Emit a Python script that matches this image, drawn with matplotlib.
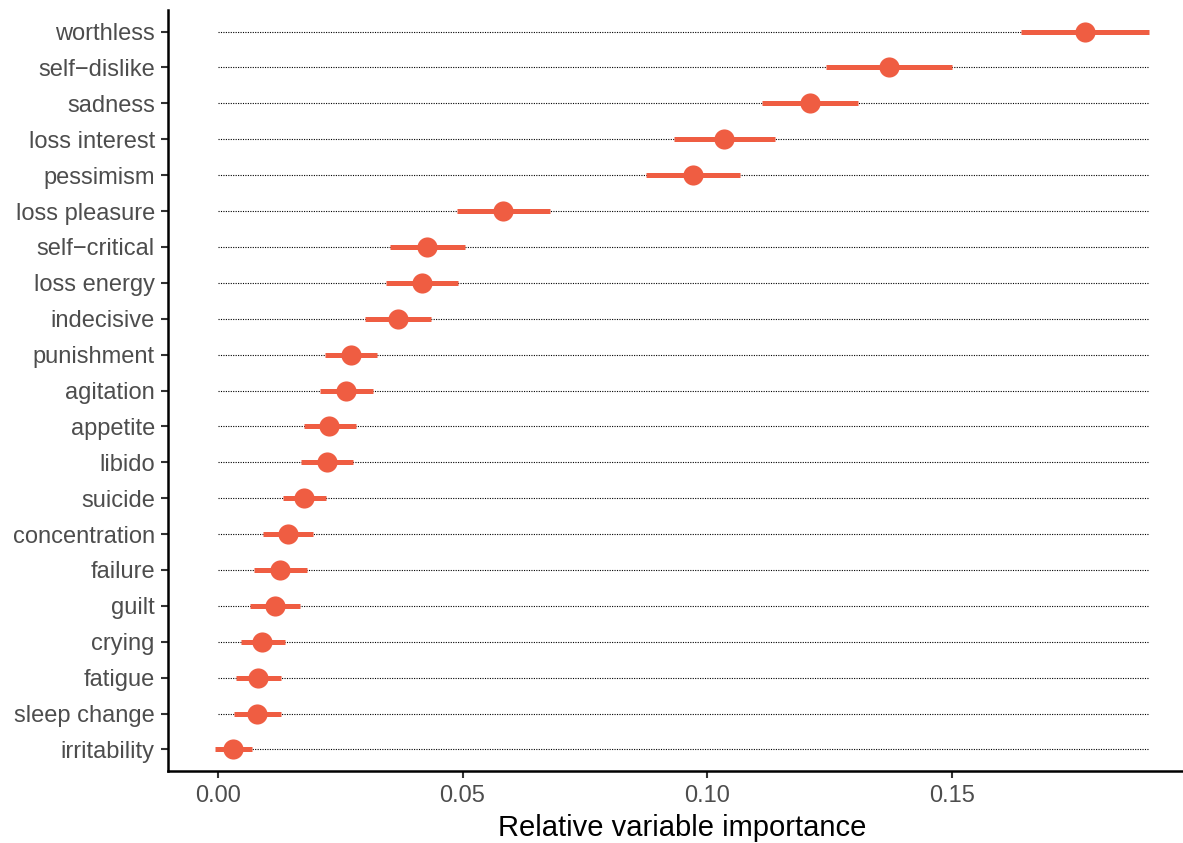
import matplotlib
matplotlib.use("Agg")
import matplotlib.pyplot as plt

plt.rcParams["font.family"] = ["Liberation Sans", "DejaVu Sans"]

# items ordered top to bottom as in the chart
items = ["worthless", "self\u2212dislike", "sadness", "loss interest", "pessimism",
         "loss pleasure", "self\u2212critical", "loss energy", "indecisive", "punishment",
         "agitation", "appetite", "libido", "suicide", "concentration", "failure",
         "guilt", "crying", "fatigue", "sleep change", "irritability"]
importance = [0.1772, 0.1371, 0.1210, 0.1035, 0.0971, 0.0583, 0.0428, 0.0418, 0.0368,
              0.0272, 0.0261, 0.0228, 0.0222, 0.0176, 0.0143, 0.0127, 0.0117, 0.0091,
              0.0082, 0.0080, 0.0031]
lower = [0.1642, 0.1242, 0.1113, 0.0933, 0.0875, 0.0488, 0.0352, 0.0344, 0.0301,
         0.0219, 0.0209, 0.0175, 0.0170, 0.0133, 0.0092, 0.0074, 0.0065, 0.0047,
         0.0037, 0.0032, -0.0006]
upper = [0.1903, 0.1500, 0.1308, 0.1139, 0.1067, 0.0679, 0.0506, 0.0491, 0.0435,
         0.0325, 0.0317, 0.0282, 0.0276, 0.0220, 0.0194, 0.0182, 0.0168, 0.0137,
         0.0128, 0.0128, 0.0070]

RED = "#EF5D42"
GREY = "#4D4D4D"

fig = plt.figure(figsize=(11.83, 8.43), dpi=100)
# panel runs slightly past the right edge of the image, as in the original
ax = fig.add_axes([168 / 1183, 1 - 771 / 843, (1196 - 168) / 1183, (771 - 10) / 843])

n = len(items)
ypos = list(range(n, 0, -1))
xmax = max(upper)

for y, lo, hi in zip(ypos, lower, upper):
    ax.plot([0, xmax], [y, y], color="black", lw=0.8, ls=(0, (1, 1.2)), zorder=1)
    ax.plot([lo, hi], [y, y], color=RED, lw=3.6, solid_capstyle="butt", zorder=2)
ax.plot(importance, ypos, "o", color=RED, ms=14.5, mec="none", zorder=3)

ax.set_xlim(-0.0102, 0.1999)
ax.set_ylim(0.4, n + 0.6)
ax.set_yticks(ypos)
ax.set_yticklabels(items)
ax.set_xticks([0, 0.05, 0.10, 0.15])
ax.set_xticklabels(["0.00", "0.05", "0.10", "0.15"])
ax.tick_params(axis="both", colors="#333333", labelcolor=GREY, labelsize=17,
               length=5, width=1.5)
ax.tick_params(axis="y", pad=4.5)
ax.tick_params(axis="x", pad=5)
ax.set_xlabel("Relative variable importance", fontsize=21, color="black", labelpad=5)

for s in ["top", "right"]:
    ax.spines[s].set_visible(False)
for s in ["left", "bottom"]:
    ax.spines[s].set_linewidth(1.8)
    ax.spines[s].set_color("black")

fig.savefig("out.png", dpi=100, facecolor="white")
